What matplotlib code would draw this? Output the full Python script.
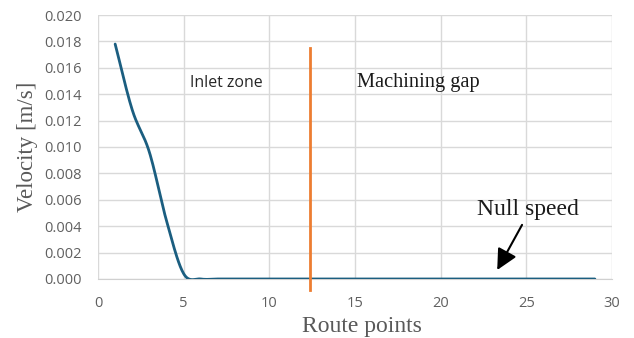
import numpy as np
import matplotlib
matplotlib.use("Agg")
import matplotlib.pyplot as plt

# route points and velocity
route = list(range(1, 30))
velocity = [0.0178, 0.0128, 0.0096, 0.0044, 0.0004] + [0.0] * 24
gap_start = 12.4
gap_top = 0.0175


def smooth(x, y, n=20):
    # Catmull-Rom style smoothing, like a spreadsheet "smoothed line"
    x = np.asarray(x, float)
    y = np.asarray(y, float)
    px = np.concatenate([[2 * x[0] - x[1]], x, [2 * x[-1] - x[-2]]])
    py = np.concatenate([[2 * y[0] - y[1]], y, [2 * y[-1] - y[-2]]])
    t = np.linspace(0, 1, n, endpoint=False)
    xs, ys = [], []
    for i in range(1, len(px) - 2):
        for p, out in ((px, xs), (py, ys)):
            p0, p1, p2, p3 = p[i - 1], p[i], p[i + 1], p[i + 2]
            out.extend(0.5 * (2 * p1 + (-p0 + p2) * t
                              + (2 * p0 - 5 * p1 + 4 * p2 - p3) * t ** 2
                              + (-p0 + 3 * p1 - 3 * p2 + p3) * t ** 3))
    xs.append(x[-1])
    ys.append(y[-1])
    return np.array(xs), np.array(ys)


fig = plt.figure(figsize=(6.34, 3.38), dpi=100)
ax = fig.add_axes([0.1546, 0.1746, 0.8107, 0.781])

sx, sy = smooth(route, velocity)
ax.plot(sx, sy, color="#1b5e80", lw=2, solid_capstyle="round", zorder=3)
ax.plot([gap_start, gap_start], [-0.0008, gap_top], color="#ed7d31", lw=2,
        clip_on=False, zorder=4)

ax.set_xlim(0, 30)
ax.set_ylim(0, 0.020)
ax.set_xticks(np.arange(0, 31, 5))
ax.set_yticks(np.arange(0, 0.0201, 0.002))
ax.yaxis.set_major_formatter(matplotlib.ticker.FormatStrFormatter("%.3f"))
ax.grid(color="#d9d9d9", lw=1)
ax.set_axisbelow(True)
for s in ["top", "right", "left"]:
    ax.spines[s].set_visible(False)
ax.spines["bottom"].set_color("#d0d0d0")
ax.tick_params(length=0, labelsize=10.5, colors="#606060")
ax.tick_params(axis="y", pad=12)
ax.tick_params(axis="x", pad=12)
for lab in ax.get_xticklabels() + ax.get_yticklabels():
    lab.set_family("Open Sans")

ax.set_ylabel("Velocity [m/s]", family="Liberation Serif", fontsize=16.5,
              color="#595959", va="center")
ax.yaxis.set_label_coords(-0.138, 0.502)
ax.set_xlabel("Route points", family="Liberation Serif", fontsize=17,
              color="#595959", va="baseline")
ax.xaxis.set_label_coords(0.5136, -0.2008)

ax.text(5.37, 0.01455, "Inlet zone", family="Open Sans", fontsize=11.4,
        color="#262626", va="baseline")
ax.text(15.12, 0.01455, "Machining gap", family="Liberation Serif",
        fontsize=14.7, color="#1a1a1a", va="baseline")
ax.text(22.12, 0.00485, "Null speed", family="Liberation Serif", fontsize=17,
        color="#1a1a1a", va="baseline")
ax.annotate("", xy=(23.3, 0.00068), xytext=(24.75, 0.0041),
            arrowprops=dict(arrowstyle="-|>,head_length=0.9,head_width=0.45",
                            color="black", lw=1.5, shrinkA=0, shrinkB=0,
                            mutation_scale=14))

fig.savefig("out.png", dpi=100)
